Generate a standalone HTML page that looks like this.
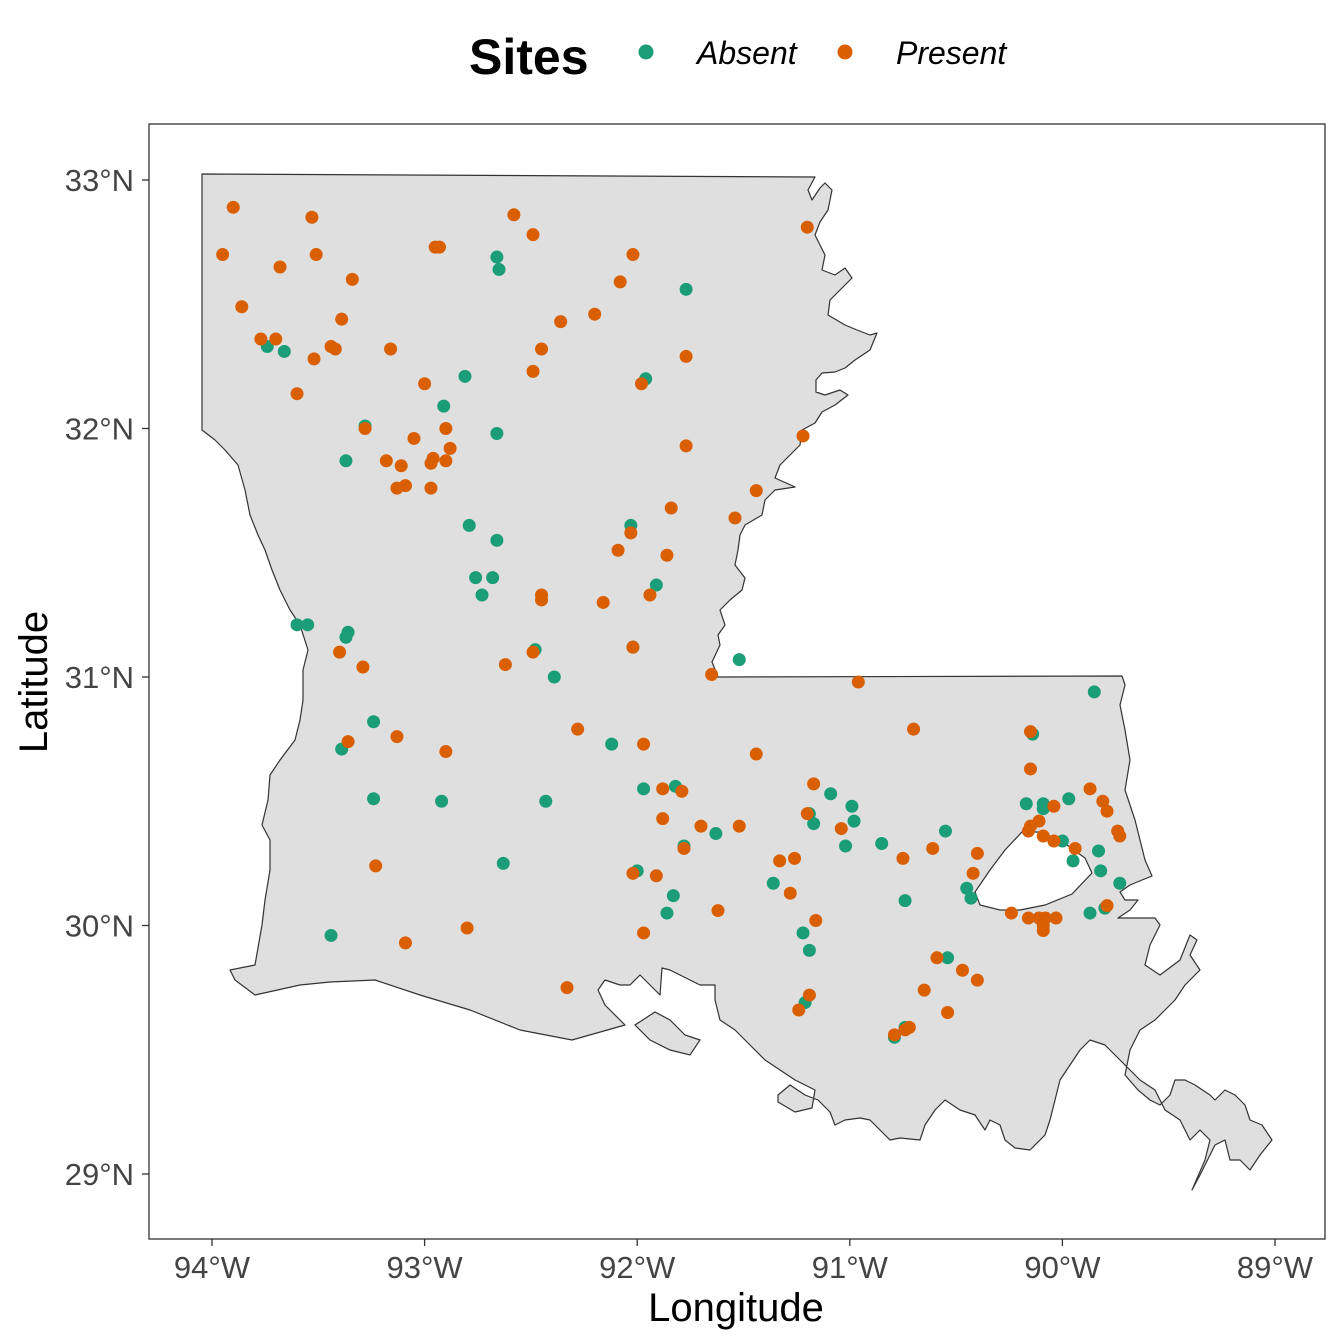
<!DOCTYPE html>
<html><head><meta charset="utf-8"><style>
html,body{margin:0;padding:0;background:#fff;}
svg{display:block;font-family:"Liberation Sans",Arial,sans-serif;}
</style></head><body>
<svg id="chart" width="1344" height="1344" viewBox="0 0 1344 1344" xmlns="http://www.w3.org/2000/svg">
<g>
<text x="469" y="74" font-size="50" font-weight="bold">Sites</text>
<circle cx="646" cy="52" r="7.5" fill="#1B9E77"/>
<text x="697" y="64" font-size="32" font-style="italic">Absent</text>
<circle cx="845" cy="52" r="7.5" fill="#D95F02"/>
<text x="896" y="64" font-size="32" font-style="italic">Present</text>
</g>
<g id="mapg">
<path fill="#dfdfdf" stroke="#333" stroke-width="1.2" stroke-linejoin="round" d="M202,174 L815,177 L808,190 L812,200 L820,188 L825,183 L832,190 L828,210 L820,222 L815,235 L825,255 L822,270 L835,275 L845,268 L852,278 L840,290 L830,300 L828,315 L845,325 L857,330 L870,335 L877,333 L870,350 L855,360 L845,368 L835,372 L822,373 L816,380 L816,392 L825,395 L840,390 L848,395 L835,405 L822,412 L815,423 L802,430 L800,445 L790,455 L780,465 L775,478 L795,487 L775,490 L765,500 L762,515 L745,525 L740,535 L738,550 L735,565 L745,578 L742,590 L730,600 L720,610 L725,625 L718,635 L720,645 L712,662 L718,677 L1122,676 L1125,685 L1120,705 L1125,730 L1130,760 L1125,790 L1135,820 L1140,840 L1145,860 L1152,876 L1142,880 L1130,885 L1120,892 L1125,900 L1138,900 L1130,910 L1118,918 L1140,918 L1155,918 L1160,925 L1150,945 L1145,965 L1160,975 L1180,960 L1190,935 L1197,940 L1190,955 L1200,970 L1185,985 L1175,1000 L1165,1010 L1155,1020 L1140,1030 L1130,1050 L1125,1075 L1138,1090 L1150,1100 L1160,1105 L1170,1095 L1175,1080 L1185,1080 L1195,1085 L1210,1095 L1215,1100 L1225,1090 L1235,1095 L1245,1105 L1250,1120 L1262,1125 L1272,1140 L1260,1155 L1250,1170 L1240,1160 L1230,1160 L1225,1140 L1215,1145 L1200,1175 L1192,1190 L1205,1160 L1210,1140 L1200,1130 L1190,1140 L1180,1120 L1165,1110 L1155,1090 L1140,1080 L1120,1060 L1105,1045 L1090,1040 L1080,1050 L1070,1065 L1060,1080 L1055,1100 L1050,1120 L1045,1135 L1030,1150 L1015,1148 L1005,1140 L1000,1125 L990,1120 L985,1130 L975,1115 L960,1110 L945,1100 L935,1110 L925,1125 L920,1140 L900,1138 L890,1140 L880,1130 L870,1120 L860,1118 L845,1120 L835,1125 L830,1112 L818,1100 L805,1095 L790,1085 L778,1095 L778,1102 L795,1112 L812,1108 L815,1090 L795,1080 L780,1070 L765,1060 L750,1045 L735,1030 L720,1020 L715,1000 L715,985 L700,985 L690,980 L680,975 L670,970 L662,968 L660,995 L650,985 L640,975 L630,985 L620,985 L605,980 L598,990 L605,1005 L625,1025 L572,1040 L520,1030 L470,1010 L420,995 L375,980 L330,982 L300,985 L255,995 L235,980 L230,970 L255,965 L262,925 L265,900 L270,870 L270,840 L262,825 L268,800 L270,775 L280,760 L295,740 L300,720 L303,700 L303,670 L308,650 L300,625 L290,610 L280,590 L272,570 L265,550 L258,535 L250,515 L245,490 L238,465 L225,450 L215,440 L202,430 Z"/>
<path fill="#fff" stroke="#333" stroke-width="1.2" d="M1022,832 L1040,832 L1060,840 L1085,858 L1092,873 L1072,894 L1045,905 L1020,910 L1000,910 L980,905 L975,892 L990,870 L1005,850 Z"/>
<path fill="#dfdfdf" stroke="#333" stroke-width="1.2" d="M635,1025 L655,1012 L670,1020 L685,1035 L700,1040 L690,1055 L670,1050 L650,1040 Z"/>
</g>
<rect x="149" y="124" width="1176" height="1115" fill="none" stroke="#333" stroke-width="1.3"/>
<g id="axes"></g>
<g id="points"></g>
<text x="736" y="1321" font-size="40" text-anchor="middle">Longitude</text>
<text transform="translate(47,682) rotate(-90)" font-size="40" text-anchor="middle">Latitude</text>
</svg>
<script>
const xTicks=[-94,-93,-92,-91,-90,-89];
const xTickLabels=["94°W","93°W","92°W","91°W","90°W","89°W"];
const yTicks=[29,30,31,32,33];
const yTickLabels=["29°N","30°N","31°N","32°N","33°N"];
const presentLon=[-93.95,-93.90,-93.86,-93.77,-93.70,-93.68,-93.53,-93.51,-93.52,-93.60,-93.44,-93.42,-93.39,-93.34,-93.16,-93.00,-93.28,-93.18,-93.11,-93.09,-93.13,-93.05,-92.97,-92.96,-92.97,-92.90,-92.90,-92.88,-92.95,-92.93,-92.58,-92.49,-92.36,-92.45,-92.49,-92.20,-92.08,-92.02,-91.98,-91.77,-91.77,-91.84,-92.03,-92.09,-91.86,-91.94,-92.16,-92.45,-92.45,-92.49,-92.62,-93.29,-93.40,-93.36,-93.13,-92.90,-93.23,-93.09,-92.80,-92.28,-91.97,-91.44,-91.65,-90.96,-90.70,-91.54,-91.44,-91.22,-91.20,-92.02,-92.33,-91.88,-91.79,-91.88,-91.70,-91.52,-91.78,-91.91,-92.02,-91.62,-91.97,-91.17,-91.20,-91.04,-91.33,-91.26,-91.28,-91.16,-91.24,-91.19,-90.75,-90.61,-90.40,-90.42,-90.59,-90.65,-90.47,-90.40,-90.54,-90.72,-90.74,-90.79,-90.24,-90.15,-90.15,-90.11,-90.15,-90.16,-90.04,-90.09,-90.04,-89.94,-89.87,-89.81,-89.79,-89.74,-89.73,-90.16,-90.11,-90.08,-90.03,-90.09,-90.09,-89.79];
const presentLat=[32.70,32.89,32.49,32.36,32.36,32.65,32.85,32.70,32.28,32.14,32.33,32.32,32.44,32.60,32.32,32.18,32.00,31.87,31.85,31.77,31.76,31.96,31.76,31.88,31.86,32.00,31.87,31.92,32.73,32.73,32.86,32.78,32.43,32.32,32.23,32.46,32.59,32.70,32.18,32.29,31.93,31.68,31.58,31.51,31.49,31.33,31.30,31.33,31.31,31.10,31.05,31.04,31.10,30.74,30.76,30.70,30.24,29.93,29.99,30.79,30.73,30.69,31.01,30.98,30.79,31.64,31.75,31.97,32.81,31.12,29.75,30.55,30.54,30.43,30.40,30.40,30.31,30.20,30.21,30.06,29.97,30.57,30.45,30.39,30.26,30.27,30.13,30.02,29.66,29.72,30.27,30.31,30.29,30.21,29.87,29.74,29.82,29.78,29.65,29.59,29.58,29.56,30.05,30.78,30.63,30.42,30.40,30.38,30.48,30.36,30.34,30.31,30.55,30.50,30.46,30.38,30.36,30.03,30.03,30.03,30.03,29.98,30.00,30.08];
const absentLon=[-93.74,-93.66,-93.60,-93.55,-93.36,-93.37,-93.37,-93.28,-93.24,-93.39,-93.24,-93.44,-92.92,-92.91,-92.81,-92.66,-92.65,-92.66,-92.79,-92.66,-92.76,-92.68,-92.73,-92.48,-92.39,-92.12,-92.43,-92.63,-92.03,-92.02,-91.91,-91.96,-91.77,-91.97,-91.82,-91.78,-91.63,-92.00,-91.83,-91.86,-91.52,-91.36,-91.19,-91.17,-91.09,-90.99,-90.98,-91.02,-90.85,-90.55,-90.74,-90.45,-90.43,-91.22,-91.19,-91.21,-90.54,-90.74,-90.79,-90.14,-89.85,-90.17,-90.09,-90.09,-89.97,-90.00,-89.95,-89.83,-89.82,-89.73,-89.80,-89.87];
const absentLat=[32.33,32.31,31.21,31.21,31.18,31.16,31.87,32.01,30.82,30.71,30.51,29.96,30.50,32.09,32.21,32.69,32.64,31.98,31.61,31.55,31.40,31.40,31.33,31.11,31.00,30.73,30.50,30.25,31.61,31.12,31.37,32.20,32.56,30.55,30.56,30.32,30.37,30.22,30.12,30.05,31.07,30.17,30.45,30.41,30.53,30.48,30.42,30.32,30.33,30.38,30.10,30.15,30.11,29.97,29.90,29.69,29.87,29.59,29.55,30.77,30.94,30.49,30.49,30.47,30.51,30.34,30.26,30.30,30.22,30.17,30.07,30.05];
const NS="http://www.w3.org/2000/svg";
function xs(lon){return 212+(lon+94)*212.6;}
function ys(lat){return 180+(33-lat)*248.5;}
const axes=document.getElementById('axes');
xTicks.forEach((v,i)=>{
  const l=document.createElementNS(NS,'line');
  l.setAttribute('x1',xs(v));l.setAttribute('x2',xs(v));l.setAttribute('y1',1239);l.setAttribute('y2',1246);
  l.setAttribute('stroke','#333');l.setAttribute('stroke-width','1.3');
  
  
  axes.appendChild(l);
  const t=document.createElementNS(NS,'text');
  t.setAttribute('x',xs(v));t.setAttribute('y',1278);t.setAttribute('text-anchor','middle');
  t.setAttribute('font-size','31');t.setAttribute('fill','#444');
  t.textContent=xTickLabels[i];
  
  
  axes.appendChild(t);
});
yTicks.forEach((v,i)=>{
  const l=document.createElementNS(NS,'line');
  l.setAttribute('x1',142);l.setAttribute('x2',149);l.setAttribute('y1',ys(v));l.setAttribute('y2',ys(v));
  l.setAttribute('stroke','#333');l.setAttribute('stroke-width','1.3');
  
  
  axes.appendChild(l);
  const t=document.createElementNS(NS,'text');
  t.setAttribute('x',134);t.setAttribute('y',ys(v)+11);t.setAttribute('text-anchor','end');
  t.setAttribute('font-size','31');t.setAttribute('fill','#444');
  t.textContent=yTickLabels[i];
  
  
  axes.appendChild(t);
});
const pts=document.getElementById('points');
function draw(lons,lats,color,name){
  lons.forEach((lon,i)=>{
    const c=document.createElementNS(NS,'circle');
    c.setAttribute('cx',xs(lon));c.setAttribute('cy',ys(lats[i]));c.setAttribute('r','6.5');
    c.setAttribute('fill',color);
    
    
    pts.appendChild(c);
  });
}
draw(absentLon,absentLat,'#1B9E77','absent-site-point');
draw(presentLon,presentLat,'#D95F02','present-site-point');
</script>
</body></html>
